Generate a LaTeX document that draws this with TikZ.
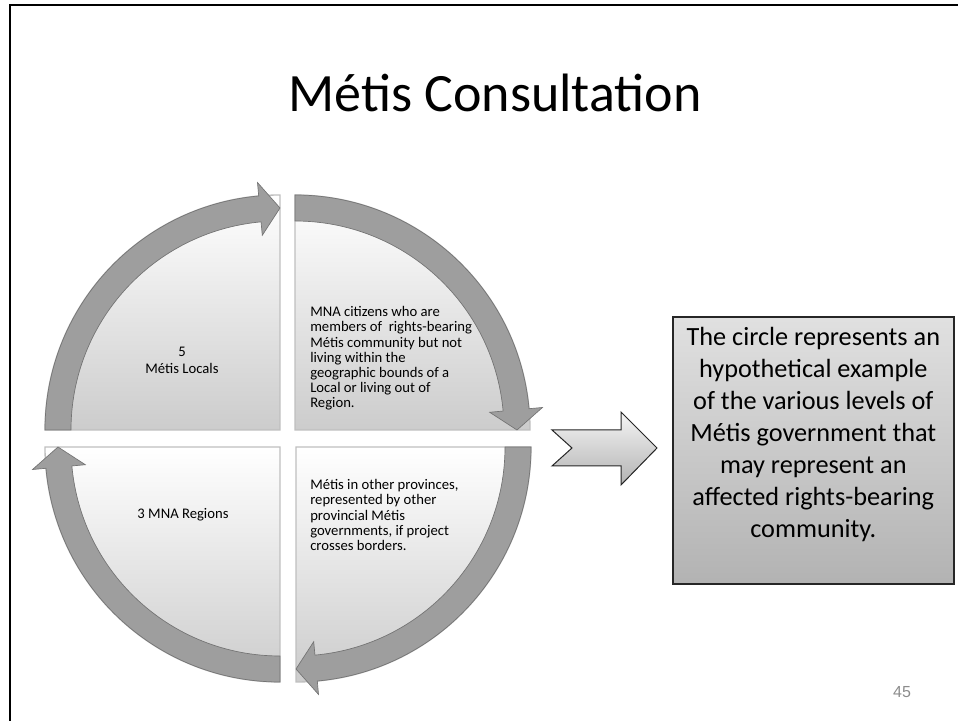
\documentclass[tikz,border=0pt]{standalone}
\usepackage{fontspec}
\setmainfont{Carlito}
\newfontfamily\pagefont{Liberation Sans}
\usetikzlibrary{calc}
\tikzset{zpanel/.style={
  draw=black!25,
  line width=1,
  top color=white,
  bottom color=black!20}}
\tikzset{zband/.style={
  fill=black!38,
  draw=black!55,
  line width=.5}}
\tikzset{zlabel/.style={
  font=\fontsize{11}{11.4}\selectfont,
  inner sep=0pt}}

\begin{document}
\begin{tikzpicture}[
  x=.75pt,y=.75pt,
  znote/.style={
    draw=black!85,
    line width=1.2,
    top color=black!12,
    bottom color=black!30,
    inner sep=0pt,
    minimum width=210.75pt,
    minimum height=200.25pt}
]
  \useasboundingbox (0,0) rectangle (958,721);

  %% Slide frame (top and left only)
  \draw[line width=2] (10,0) -- (10,716) -- (958,716);

  \node[font=\fontsize{40.5}{48}\selectfont,anchor=base] (title) at (495,609) {Métis Consultation};

  %%%% The four quarters of the cycle %%%%
  \foreach \cx/\cy/\a/\n in {280/291/180/tl,295/291/90/tr,296/274/0/br,280/274/270/bl}{
    \coordinate (c-\n) at (\cx,\cy);
    \pgfmathsetmacro\t{\a-90}
    %% Quarter panel
    \draw[zpanel] (c-\n) -- ++(\a:235) arc[start angle=\a,end angle=\t,radius=235] -- cycle;
  }
  \foreach \a/\n in {180/tl,90/tr,0/br,270/bl}{
    %% Base and tip of the head
    \pgfmathsetmacro\b{\a-84.8}
    \pgfmathsetmacro\t{\a-90}
    %% Curved arrow on the rim
    \draw[zband] ($(c-\n)+(\a:235)$) arc[start angle=\a,end angle=\b,radius=235]
      -- ($(c-\n)+(\b:248.5)$) -- ($(c-\n)+(\t:222)$) -- ($(c-\n)+(\b:195.5)$)
      -- ($(c-\n)+(\b:209)$) arc[start angle=\b,end angle=\a,radius=209] -- cycle;
  }

  %% Text of each quarter
  \node[zlabel,align=center] (locals) at (182,360.5) {5\\[1pt]Métis Locals};
  \node[zlabel,align=left,anchor=west] (citizens) at (310,362.5)
    {MNA citizens who are\\members of~ rights-bearing\\Métis community but not\\living within the\\geographic bounds of a\\Local or living out of\\Region.};
  \node[zlabel] (regions) at (183,206) {3 MNA Regions};
  \node[zlabel,align=left,anchor=west] (provinces) at (310,206)
    {Métis in other provinces,\\represented by other\\provincial Métis\\governments, if project\\crosses borders.};

  %% Block arrow towards the note
  \draw[draw=black!85,line width=.75,top color=black!4,bottom color=black!30]
    (552,291) -- (621,291) -- (621,309) -- (657,273) -- (621,236)
    -- (621,255) -- (552,255) -- (572,273) -- cycle;

  %% Note box
  \node[znote,anchor=north west] (note) at (672,405) {};
  \node[font=\fontsize{19.7}{24}\selectfont,align=center] (notetext) at ($(note.center)+(0,15.5)$)
    {The circle represents an\\hypothetical example\\of the various levels of\\Métis government that\\may represent an\\affected rights-bearing\\community.};

  \node[font=\pagefont\fontsize{12}{14}\selectfont,text=black!45] (pagenum) at (902,29) {45};
\end{tikzpicture}
\end{document}
